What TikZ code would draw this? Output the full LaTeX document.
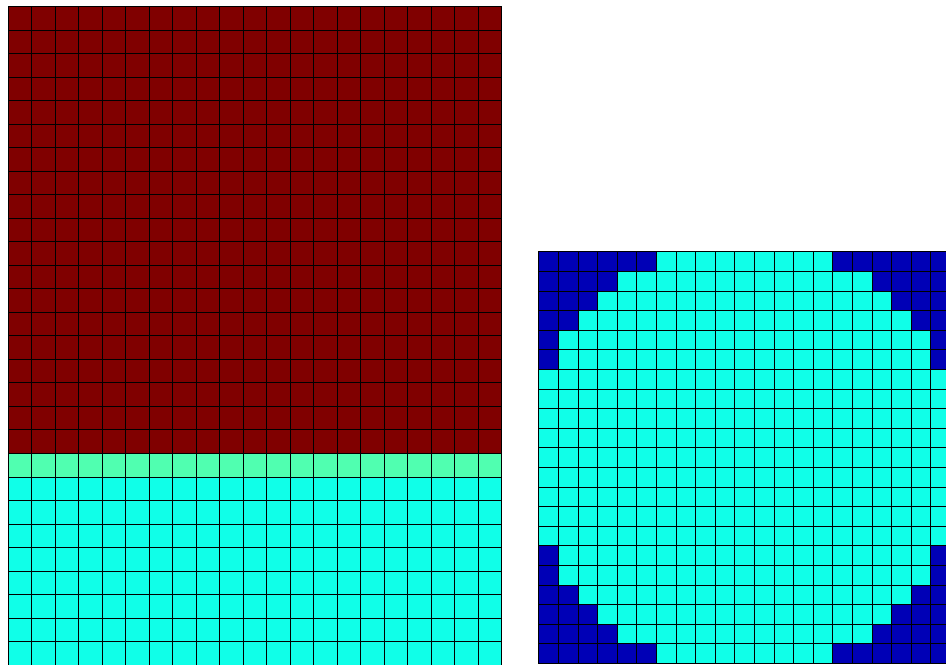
\documentclass[tikz,border=0pt]{standalone}
\usepackage{tikz}
\definecolor{jetred}{RGB}{128,0,0}
\definecolor{jetcyan}{RGB}{16,255,232}
\definecolor{jetgreen}{RGB}{80,255,176}
\definecolor{jetblue}{RGB}{0,0,182}

\begin{document}
\begin{tikzpicture}[x=0.02cm, y=0.02cm,
  cell/.style={draw=black, line width=0.45pt}]
\clip (0,0) rectangle (946,664);
\fill[white] (0,0) rectangle (946,664);
% left block: 21 x 28 cells, 19 red rows, one green row, cyan below
\foreach \r in {0,...,27} {
  \foreach \c in {0,...,20} {
    \ifnum\r<19 \def\cellcol{jetred}\else\ifnum\r=19 \def\cellcol{jetgreen}\else\def\cellcol{jetcyan}\fi\fi
    \filldraw[cell, fill=\cellcol] ({8+23.51*\c}, {657.3-23.51*\r}) rectangle ++(23.51,-23.51);
  }
}
% right block: 21 x 21 cells, disc in cyan, corners blue
\foreach \r in {0,...,20} {
  \foreach \c in {0,...,20} {
    \pgfmathtruncatemacro\dd{(\r-10)*(\r-10)+(\c-10)*(\c-10)}
    \ifnum\dd>120 \def\cellcol{jetblue}\else\def\cellcol{jetcyan}\fi
    \filldraw[cell, fill=\cellcol] ({538.7+19.6*\c}, {412.3-19.6*\r}) rectangle ++(19.6,-19.6);
  }
}
\end{tikzpicture}
\end{document}
